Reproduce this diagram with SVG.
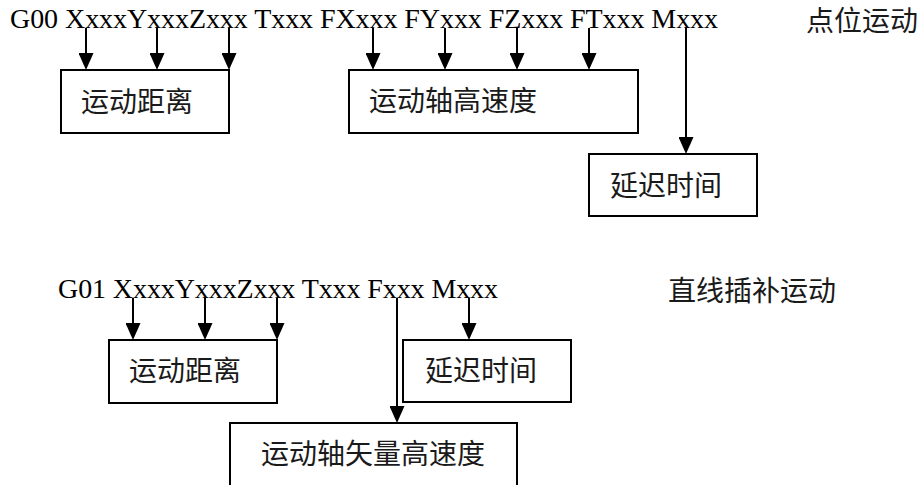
<svg xmlns="http://www.w3.org/2000/svg" width="919" height="485" viewBox="0 0 919 485">
<style>
.box{fill:#fff;stroke:#000;stroke-width:2}
.code{font-family:"Liberation Serif","Times New Roman",serif;font-size:28px;fill:#000}
.cn{font-family:"Noto Sans CJK SC",sans-serif;font-size:28px;fill:#1a1a1a}
.ln{stroke:#000;stroke-width:2;fill:none;marker-end:url(#ah)}
</style>
<defs>
<marker id="ah" markerUnits="userSpaceOnUse" viewBox="0 0 17 15" refX="12" refY="7.5" markerWidth="17" markerHeight="15" orient="auto">
<path d="M0,0 L17,7.5 L0,15 z" fill="#000"/>
</marker>
</defs>
<rect width="919" height="485" fill="#fff"/>
<text class="code" x="10" y="28" textLength="708" lengthAdjust="spacing">G00 XxxxYxxxZxxx Txxx FXxxx FYxxx FZxxx FTxxx Mxxx</text>
<text class="cn" x="806" y="31">点位运动</text>
<text class="code" x="58" y="298" textLength="440" lengthAdjust="spacing">G01 XxxxYxxxZxxx Txxx Fxxx Mxxx</text>
<text class="cn" x="668" y="301">直线插补运动</text>
<g id="connectors">
<line class="ln" x1="86" y1="28" x2="86" y2="65"/>
<line class="ln" x1="157" y1="28" x2="157" y2="65"/>
<line class="ln" x1="229" y1="28" x2="229" y2="65"/>
<line class="ln" x1="373" y1="28" x2="373" y2="65"/>
<line class="ln" x1="445" y1="28" x2="445" y2="65"/>
<line class="ln" x1="517" y1="28" x2="517" y2="65"/>
<line class="ln" x1="589" y1="28" x2="589" y2="65"/>
<line class="ln" x1="686" y1="28" x2="686" y2="149"/>
<line class="ln" x1="133" y1="298" x2="133" y2="335"/>
<line class="ln" x1="205" y1="298" x2="205" y2="335"/>
<line class="ln" x1="277" y1="298" x2="277" y2="335"/>
<line class="ln" x1="397" y1="298" x2="397" y2="418"/>
<line class="ln" x1="469" y1="298" x2="469" y2="335"/>
</g>
<g id="n1"><rect class="box" x="61" y="70" width="168" height="63"/><text class="cn" x="81" y="112">运动距离</text></g>
<g id="n2"><rect class="box" x="349" y="70" width="289" height="63"/><text class="cn" x="369" y="111">运动轴高速度</text></g>
<g id="n3"><rect class="box" x="589" y="154" width="168" height="62"/><text class="cn" x="610" y="196">延迟时间</text></g>
<g id="n4"><rect class="box" x="109" y="340" width="168" height="63"/><text class="cn" x="129" y="381">运动距离</text></g>
<g id="n5"><rect class="box" x="403" y="340" width="168" height="62"/><text class="cn" x="425" y="381">延迟时间</text></g>
<g id="n6"><rect class="box" x="230" y="423" width="287" height="70"/><text class="cn" x="261" y="464">运动轴矢量高速度</text></g>
</svg>
